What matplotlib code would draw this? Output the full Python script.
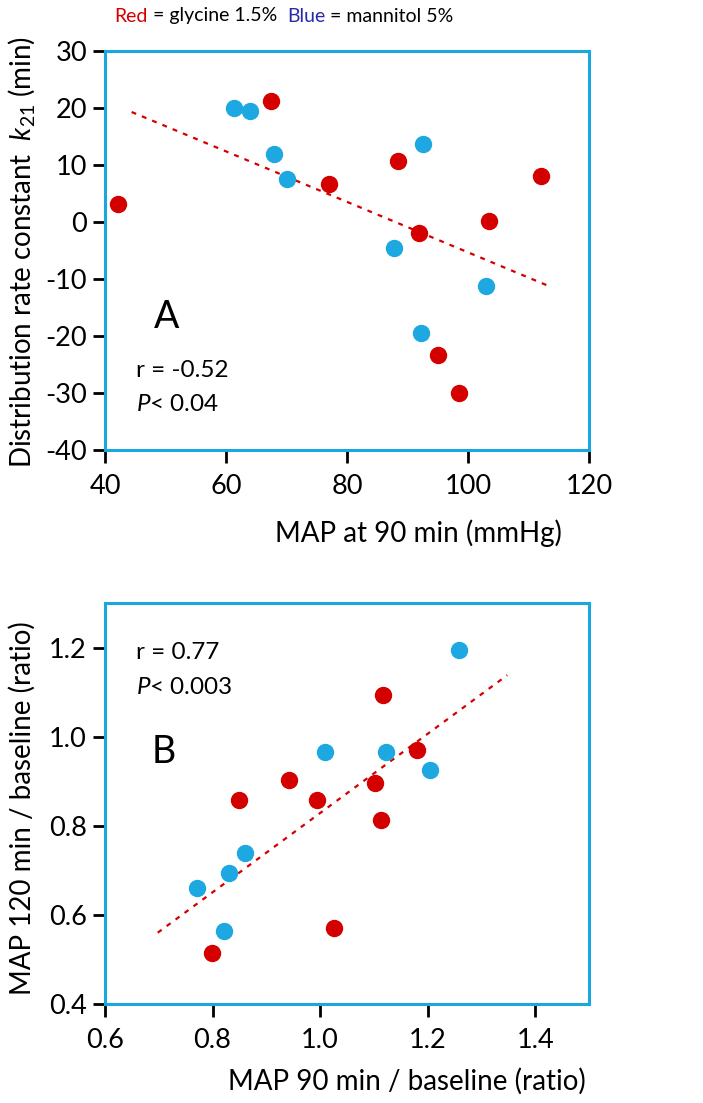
import numpy as np
import matplotlib
matplotlib.use('Agg')
import matplotlib.pyplot as plt

plt.rcParams['font.family'] = ['Lato', 'DejaVu Sans']
plt.rcParams['axes.unicode_minus'] = False
plt.rcParams['mathtext.fontset'] = 'custom'
plt.rcParams['mathtext.it'] = 'Lato:italic'
plt.rcParams['mathtext.rm'] = 'Lato'

# Панель A: MAP на 90 мин против k21
a_red_x = [42.1, 67.4, 77.0, 88.5, 91.9, 103.4, 112.0, 95.0, 98.5]
a_red_y = [3.2, 21.2, 6.6, 10.7, -2.0, 0.1, 8.0, -23.4, -30.0]
a_blue_x = [61.4, 64.0, 68.0, 70.1, 92.6, 87.7, 103.0, 92.3]
a_blue_y = [20.0, 19.4, 12.0, 7.6, 13.7, -4.6, -11.2, -19.5]
a_fit_x = [44.4, 113.5]
a_fit_y = [19.3, -11.3]

# Панель B: отношения MAP к исходному уровню
b_red_x = [0.799, 0.850, 0.943, 0.994, 1.026, 1.102, 1.114, 1.117, 1.181]
b_red_y = [0.514, 0.857, 0.902, 0.857, 0.570, 0.897, 0.812, 1.094, 0.969]
b_blue_x = [0.771, 0.830, 0.861, 0.822, 1.010, 1.122, 1.204, 1.258]
b_blue_y = [0.660, 0.695, 0.739, 0.564, 0.965, 0.965, 0.925, 1.195]
b_fit_x = [0.698, 1.348]
b_fit_y = [0.560, 1.138]

red = '#d40000'
blue = '#1ea8e2'
frame = '#1aa6de'
fs_tick = 19.5
fs_lab = 20
fs_note = 17.5

fig = plt.figure(figsize=(7.03, 11.03), dpi=100)
axA = fig.add_axes([105 / 703, 1 - 450 / 1103, 484 / 703, 399 / 1103])
axB = fig.add_axes([105 / 703, 1 - 1004 / 1103, 484 / 703, 401 / 1103])


def style(ax):
    for s in ax.spines.values():
        s.set_color(frame)
        s.set_linewidth(2.2)
    ax.tick_params(axis='x', direction='out', length=9, width=2, color='black',
                   labelsize=fs_tick, pad=8)
    ax.tick_params(axis='y', direction='out', length=9, width=2, color='black',
                   labelsize=fs_tick, pad=4)


# A
axA.plot(a_fit_x, a_fit_y, color=red, ls=(0, (2.2, 2.8)), lw=1.6, zorder=2)
axA.plot(a_red_x, a_red_y, 'o', color=red, ms=11.5, zorder=3)
axA.plot(a_blue_x, a_blue_y, 'o', color=blue, ms=11.5, zorder=3)
axA.set_xlim(40, 120)
axA.set_ylim(-40, 30)
axA.set_xticks([40, 60, 80, 100, 120])
axA.set_yticks(np.arange(-40, 31, 10))
style(axA)
axA.text(50.1, -16.7, 'A', fontsize=27, ha='center', va='center')
axA.text(45.1, -26.0, 'r = -0.52', fontsize=fs_note, ha='left', va='center')
axA.text(45.1, -32.1, '$\\it{P}$< 0.04', fontsize=fs_note, ha='left', va='center')
fig.text(418 / 703, 1 - 533 / 1103, 'MAP at 90 min (mmHg)', fontsize=fs_lab,
         ha='center', va='center')
fig.text(22 / 703, 1 - 252 / 1103, 'Distribution rate constant  $\\it{k}_{21}$ (min)',
         fontsize=fs_lab, rotation=90, ha='center', va='center')

# B
axB.plot(b_fit_x, b_fit_y, color=red, ls=(0, (2.2, 2.8)), lw=1.6, zorder=2)
axB.plot(b_red_x, b_red_y, 'o', color=red, ms=11.5, zorder=3)
axB.plot(b_blue_x, b_blue_y, 'o', color=blue, ms=11.5, zorder=3)
axB.set_xlim(0.6, 1.5)
axB.set_ylim(0.4, 1.3)
axB.set_xticks([0.6, 0.8, 1.0, 1.2, 1.4])
axB.set_yticks([0.4, 0.6, 0.8, 1.0, 1.2])
axB.set_xticklabels(['0.6', '0.8', '1.0', '1.2', '1.4'])
axB.set_yticklabels(['0.4', '0.6', '0.8', '1.0', '1.2'])
style(axB)
axB.text(0.71, 0.966, 'B', fontsize=27, ha='center', va='center')
axB.text(0.658, 1.19, 'r = 0.77', fontsize=fs_note, ha='left', va='center')
axB.text(0.658, 1.11, '$\\it{P}$< 0.003', fontsize=fs_note, ha='left', va='center')
fig.text(407 / 703, 1 - 1081 / 1103, 'MAP 90 min / baseline (ratio)', fontsize=fs_lab,
         ha='center', va='center')
fig.text(22 / 703, 1 - 808 / 1103, 'MAP 120 min / baseline (ratio)',
         fontsize=fs_lab, rotation=90, ha='center', va='center')

# Заголовок из цветных кусков
parts = [('Red', red), (' = glycine 1.5%  ', 'black'),
         ('Blue', '#2a2aa8'), (' = mannitol 5%', 'black')]
r = fig.canvas.get_renderer()
texts = []
for s, c in parts:
    texts.append(fig.text(0, 1 - 16 / 1103, s, color=c, fontsize=14, va='center'))
widths = [t.get_window_extent(r).width for t in texts]
x0 = 284 - sum(widths) / 2
for t, w in zip(texts, widths):
    t.set_x(x0 / 703)
    x0 += w

fig.savefig('out.png', dpi=100)
